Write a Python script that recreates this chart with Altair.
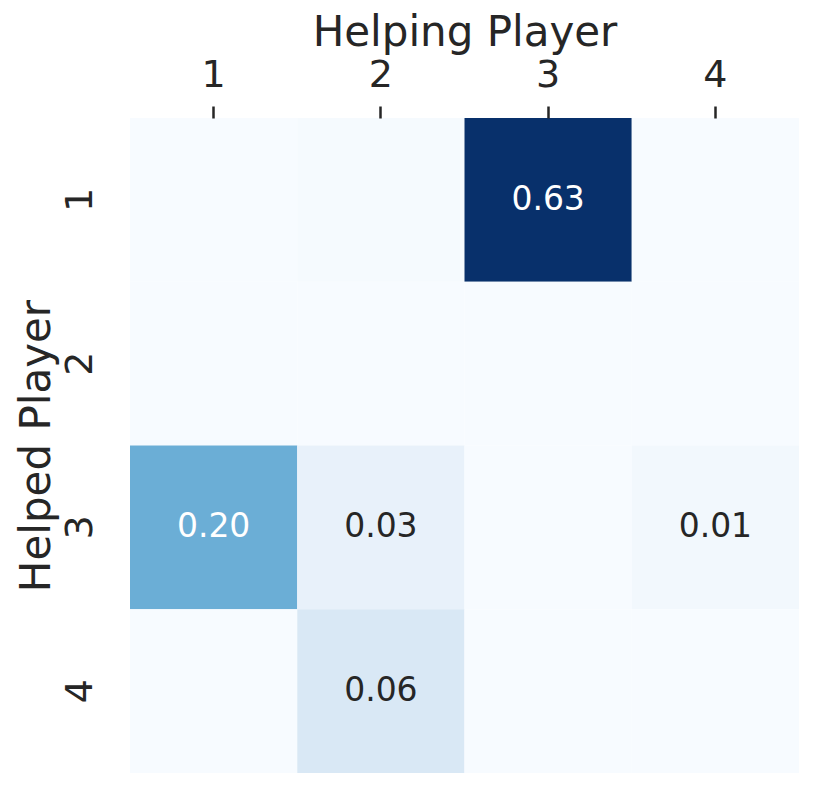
import altair as alt
import pandas as pd

helped = ["1", "2", "3", "4"]      # rows (y)
helping = ["1", "2", "3", "4"]     # columns (x)
values = [
    [0.0, 0.004, 0.63, 0.0],
    [0.0, 0.0, 0.0, 0.0],
    [0.20, 0.03, 0.0, 0.01],
    [0.0, 0.06, 0.0, 0.0],
]

rows = []
for i, r in enumerate(helped):
    for j, c in enumerate(helping):
        v = values[i][j]
        rows.append({"helped": r, "helping": c, "value": v,
                     "label": f"{v:.2f}" if v >= 0.005 else ""})
df = pd.DataFrame(rows)

blues = ["#f7fbff", "#deebf7", "#c6dbef", "#9ecae1", "#6baed6",
         "#4292c6", "#2171b5", "#08519c", "#08306b"]
vmax = 0.4
dom = [vmax * k / 8 for k in range(9)]

x = alt.X("helping:O", sort=helping, title="Helping Player",
          scale=alt.Scale(paddingInner=0, paddingOuter=0),
          axis=alt.Axis(orient="top", labelAngle=0, labelFontSize=38,
                        titleFontSize=42, tickSize=12, tickWidth=2.5,
                        tickColor="#262626", domain=False, labelPadding=12,
                        titlePadding=2, labelColor="#262626",
                        titleColor="#262626", titleFontWeight="normal",
                        labelFont="DejaVu Sans", titleFont="DejaVu Sans"))
y = alt.Y("helped:O", sort=helped, title="Helped Player",
          scale=alt.Scale(paddingInner=0, paddingOuter=0),
          axis=alt.Axis(orient="left", labelAngle=270, labelAlign="center",
                        labelBaseline="bottom", labelFontSize=38,
                        titleFontSize=42, ticks=False, domain=False,
                        labelPadding=31, titlePadding=3,
                        labelColor="#262626", titleColor="#262626",
                        titleFontWeight="normal",
                        labelFont="DejaVu Sans", titleFont="DejaVu Sans"))

base = alt.Chart(df)
rect = base.mark_rect(stroke=None).encode(
    x=x, y=y,
    color=alt.Color("value:Q", legend=None,
                    scale=alt.Scale(domain=dom, range=blues, clamp=True)),
)
text = base.mark_text(fontSize=33, font="DejaVu Sans").encode(
    x=alt.X("helping:O", sort=helping),
    y=alt.Y("helped:O", sort=helped),
    text="label:N",
    color=alt.condition(alt.datum.value > 0.15, alt.value("white"),
                        alt.value("#262626")),
)

chart = (rect + text).properties(
    width=669, height=655,
    autosize=alt.AutoSizeParams(type="none"),
    padding={"left": 122, "top": 110, "right": 24, "bottom": 24},
    background="white",
).configure_view(stroke=None)

chart.save("out.html", embed_options={"renderer": "svg", "actions": False})
